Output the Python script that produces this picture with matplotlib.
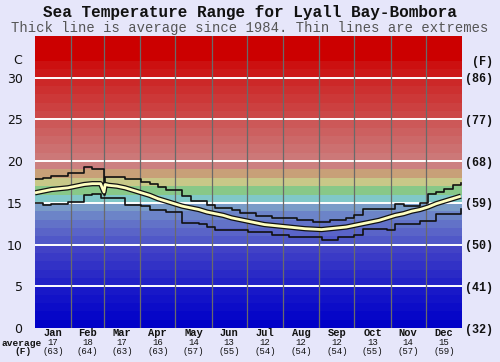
import matplotlib.pyplot as plt
from matplotlib.transforms import blended_transform_factory

# x positions of the readings (day of year), with the short 1 March glitch
days = list(range(0, 57, 7)) + [59, 60] + list(range(63, 365, 7))

temp_max = [17.8, 18.0, 18.2, 18.2, 18.6, 18.6, 19.3, 19.0, 19.0, 16.0, 18.1,
            18.1, 18.1, 17.8, 17.8, 17.5, 17.2, 16.9, 16.6, 16.6, 15.8, 15.2,
            15.2, 14.8, 14.4, 14.4, 14.1, 13.8, 13.8, 13.4, 13.4, 13.2, 13.2,
            13.2, 13.0, 13.0, 12.7, 12.7, 13.0, 13.0, 13.2, 13.6, 14.3, 14.3,
            14.3, 14.3, 14.9, 14.6, 14.6, 15.0, 16.1, 16.3, 16.7, 17.1, 17.4]

temp_min = [15.0, 14.7, 14.9, 14.9, 15.1, 15.1, 15.9, 16.1, 15.6, 15.6, 15.6,
            15.6, 15.6, 14.8, 14.8, 14.6, 14.1, 14.1, 13.9, 13.9, 12.6, 12.6,
            12.5, 12.1, 11.7, 11.7, 11.7, 11.7, 11.5, 11.5, 11.5, 11.2, 11.2,
            10.9, 10.9, 10.9, 10.9, 10.6, 10.6, 10.9, 10.9, 11.2, 11.9, 11.9,
            11.9, 11.7, 12.5, 12.5, 12.5, 12.8, 12.8, 13.7, 13.7, 13.7, 14.3]

temp_avg = [16.2, 16.4, 16.6, 16.7, 16.8, 17.0, 17.2, 17.3, 17.3, 16.3, 17.2,
            17.1, 17.0, 16.8, 16.5, 16.2, 15.9, 15.5, 15.2, 14.9, 14.6, 14.4,
            14.2, 13.9, 13.7, 13.5, 13.2, 13.0, 12.8, 12.6, 12.4, 12.3, 12.2,
            12.1, 12.0, 11.9, 11.85, 11.8, 11.9, 12.0, 12.1, 12.3, 12.5, 12.7,
            12.9, 13.2, 13.5, 13.7, 14.0, 14.2, 14.5, 14.9, 15.2, 15.5, 15.8]

months = ['Jan', 'Feb', 'Mar', 'Apr', 'May', 'Jun',
          'Jul', 'Aug', 'Sep', 'Oct', 'Nov', 'Dec']
month_days = [31, 28, 31, 30, 31, 30, 31, 31, 30, 31, 30, 31]
month_avg_c = [17, 18, 17, 16, 14, 13, 12, 12, 12, 13, 14, 15]
month_avg_f = [63, 64, 63, 63, 57, 55, 54, 54, 54, 55, 57, 59]

c_ticks = [0, 5, 10, 15, 20, 25, 30]

# background colour bands, one per degree from 0 to 35
band_colors = ['#0000c8', '#0606c8', '#0c0cc8', '#1212c8', '#1818c8',
               '#2222c6', '#2a2ac6', '#3232c6', '#3a3ac6', '#4242c6',
               '#5058c8', '#5a64c8', '#6272c8', '#6c84c8', '#7a9cc8',
               '#80c8c8', '#88c888', '#c8c888', '#c8a078', '#cc8080',
               '#cc7878', '#cc7070', '#cc6868', '#cc6060', '#cc5858',
               '#cc4848', '#cc4040', '#cc3838', '#cc3030', '#cc2828',
               '#cc1818', '#cc1010', '#cc0000', '#cc0000', '#cc0000']

mono = 'Liberation Mono'
bg = '#e6e6fa'

fig = plt.figure(figsize=(5, 3.62), dpi=100, facecolor=bg)
ax = fig.add_axes([0.07, 0.0939, 0.854, 0.8067])

for i, col in enumerate(band_colors):
    ax.axhspan(i, i + 1, color=col, lw=0, zorder=0)
for c in c_ticks[1:]:
    ax.axhline(c, color='white', lw=1.4, zorder=1)

# month separators
edges = [sum(month_days[:i]) for i in range(13)]
for e in edges[1:-1]:
    ax.axvline(e, color='#6a6a6a', lw=0.9, zorder=1)

ax.plot(days, temp_max, color='#111111', lw=1.2, drawstyle='steps-post', zorder=3)
ax.plot(days, temp_min, color='#111111', lw=1.2, drawstyle='steps-post', zorder=3)
ax.plot(days, temp_avg, color='#111111', lw=3.8, zorder=4, solid_capstyle='butt')
ax.plot(days, temp_avg, color='#ffffc0', lw=2.0, zorder=5, solid_capstyle='butt')

ax.set_xlim(0, 365)
ax.set_ylim(0, 35)
ax.set_xticks([])
ax.set_yticks(c_ticks)
ax.set_yticklabels([str(c) for c in c_ticks], fontsize=9, color='#111111')
ax.tick_params(axis='y', length=0, pad=9)
for s in ax.spines.values():
    s.set_visible(False)

ax2 = ax.twinx()
ax2.set_ylim(0, 35)
ax2.set_yticks(c_ticks)
ax2.set_yticklabels([f'({round(c * 9 / 5 + 32)})' for c in c_ticks],
                    family=mono, fontweight='bold', fontsize=8.5, color='#111111')
ax2.tick_params(axis='y', length=0, pad=2)
for s in ax2.spines.values():
    s.set_visible(False)

# month labels under the plot
tr = blended_transform_factory(ax.transData, fig.transFigure)
for i, m in enumerate(months):
    mid = (edges[i] + edges[i + 1]) / 2
    ax.text(mid, 1 - 333.5 / 362, m, transform=tr, ha='center', va='center',
            family=mono, fontweight='bold', fontsize=7.5, color='#111111')
    ax.text(mid, 1 - 342.5 / 362, str(month_avg_c[i]), transform=tr, ha='center',
            va='center', family=mono, fontsize=6.5, color='#111111')
    ax.text(mid, 1 - 352 / 362, f'({month_avg_f[i]})', transform=tr, ha='center',
            va='center', family=mono, fontsize=6.5, color='#111111')

fig.text(2 / 500, 1 - 343 / 362, 'average', ha='left', va='center',
         family=mono, fontweight='bold', fontsize=6.8, color='#111111')
fig.text(23 / 500, 1 - 352 / 362, '(F)', ha='center', va='center',
         family=mono, fontweight='bold', fontsize=6.8, color='#111111')
fig.text(18 / 500, 1 - 61 / 362, 'C', ha='center', va='center',
         fontsize=9, color='#111111')
fig.text(482 / 500, 1 - 62 / 362, '(F)', ha='center', va='center',
         family=mono, fontweight='bold', fontsize=8.5, color='#111111')

fig.text(0.5, 1 - 12 / 362, 'Sea Temperature Range for Lyall Bay-Bombora',
         ha='center', va='center', family=mono, fontweight='bold',
         fontsize=11.5, color='#111111')
fig.text(0.5, 1 - 28 / 362,
         'Thick line is average since 1984. Thin lines are extremes',
         ha='center', va='center', family=mono, fontsize=10, color='#555555')

fig.savefig('out.png', dpi=100, facecolor=bg)
